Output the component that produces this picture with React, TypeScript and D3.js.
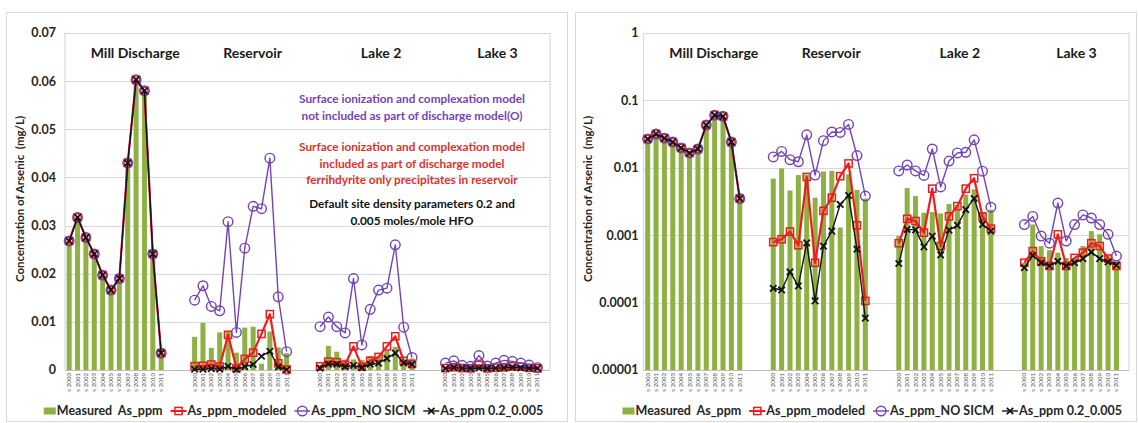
import React, { useEffect, useRef } from "react";
import * as d3 from "d3";

// ---- data -------------------------------------------------------------
const groupNames = ["Mill Discharge", "Reservoir", "Lake 2", "Lake 3"];
const yearLabels = [
  "s 2000", "s 2001", "s 2002", "s 2003", "s 2004", "s 2005",
  "s 2006", "s 2007", "s 2008", "s 2009", "s 2010", "s 2011",
];

// Mill Discharge: measured and all three model runs coincide
const millMeasured = [0.0268, 0.0317, 0.0275, 0.0241, 0.0197, 0.0166, 0.019, 0.043, 0.0603, 0.058, 0.0241, 0.0035];
const millModeled = [0.0268, 0.0317, 0.0275, 0.0241, 0.0197, 0.0166, 0.019, 0.043, 0.0603, 0.058, 0.0241, 0.0035];
const millNoSicm = [0.0268, 0.0317, 0.0275, 0.0241, 0.0197, 0.0166, 0.019, 0.043, 0.0603, 0.058, 0.0241, 0.0035];
const millDefault = [0.0268, 0.0317, 0.0275, 0.0241, 0.0197, 0.0166, 0.019, 0.043, 0.0603, 0.058, 0.0241, 0.0035];

const resMeasured = [0.0069, 0.0098, 0.0046, 0.0078, 0.0079, 0.0036, 0.0088, 0.009, 0.0013, 0.008, 0.0047, 0.0035];
const resModeled = [0.00079, 0.00087, 0.00113, 0.00071, 0.0073, 0.00039, 0.0023, 0.0036, 0.0075, 0.0116, 0.0014, 0.000106];
const resNoSicm = [0.0145, 0.0175, 0.0132, 0.0123, 0.0308, 0.0078, 0.0253, 0.034, 0.0335, 0.044, 0.0152, 0.0038];
const resDefault = [0.000163, 0.000154, 0.000285, 0.000177, 0.00077, 0.000106, 0.00069, 0.00115, 0.00286, 0.0039, 0.00062, 0.0000588];

const lake2Measured = [0.00098, 0.005, 0.0038, 0.00215, 0.0022, 0.0021, 0.0029, 0.0028, 0.004, 0.0048, 0.0022, 0.0024];
const lake2Modeled = [0.00076, 0.00175, 0.00162, 0.00109, 0.0049, 0.00069, 0.0019, 0.0027, 0.0049, 0.007, 0.0019, 0.00125];
const lake2NoSicm = [0.009, 0.011, 0.009, 0.0077, 0.019, 0.0052, 0.0126, 0.0166, 0.017, 0.026, 0.0089, 0.0026];
const lake2Default = [0.00038, 0.00122, 0.0012, 0.00067, 0.00097, 0.00051, 0.00119, 0.0014, 0.0024, 0.0035, 0.00145, 0.00115];

const lake3Measured = [0.00039, 0.00144, 0.00069, 0.0006, 0.00055, 0.00046, 0.00046, 0.00069, 0.00115, 0.00103, 0.0005, 0.0004];
const lake3Modeled = [0.00039, 0.00058, 0.00041, 0.00035, 0.00103, 0.00035, 0.00046, 0.00055, 0.00076, 0.00069, 0.00045, 0.00035];
const lake3NoSicm = [0.00144, 0.0019, 0.00097, 0.00076, 0.003, 0.00082, 0.00144, 0.002, 0.0018, 0.00144, 0.00103, 0.00049];
const lake3Default = [0.00033, 0.0005, 0.00039, 0.00035, 0.00041, 0.00035, 0.00039, 0.00045, 0.00056, 0.00045, 0.0004, 0.00036];

const measuredByGroup = [millMeasured, resMeasured, lake2Measured, lake3Measured];
const modeledByGroup = [millModeled, resModeled, lake2Modeled, lake3Modeled];
const noSicmByGroup = [millNoSicm, resNoSicm, lake2NoSicm, lake3NoSicm];
const defaultByGroup = [millDefault, resDefault, lake2Default, lake3Default];

const linearTicks = [0, 0.01, 0.02, 0.03, 0.04, 0.05, 0.06, 0.07];
const linearTickLabels = ["0", "0.01", "0.02", "0.03", "0.04", "0.05", "0.06", "0.07"];
const logTicks = [0.00001, 0.0001, 0.001, 0.01, 0.1, 1];
const logTickLabels = ["0.00001", "0.0001", "0.001", "0.01", "0.1", "1"];

const legendLabels = ["Measured  As_ppm", "As_ppm_modeled", "As_ppm_NO SICM", "As_ppm 0.2_0.005"];

const purpleNote = ["Surface ionization and complexation model", "not included as part of discharge model(O)"];
const redNote = [
  "Surface ionization and complexation model",
  "included as part of discharge model",
  "ferrihdyrite only precipitates in reservoir",
];
const blackNote = ["Default site density parameters 0.2 and", "0.005 moles/mole HFO"];

// ---- layout / style ---------------------------------------------------
const W = 1139;
const H = 423;
const PLOT_TOP = 33;
const PLOT_BOTTOM = 370;
const SLOTS_PER_GROUP = 15; // 12 years + 3 empty slots between groups
const SLOT_COUNT = 58;
const FONT = "Lato, 'Open Sans', sans-serif";
const GREEN = "#8DB143";
const RED = "#EE1C1C";
const PURPLE = "#7443B8";
const BLACK = "#141414";
const GRID = "#d9d9d9";
const TITLE_SHIFT = [20, 12, 15, 6];

type Panel = {
  frameX: number;
  frameW: number;
  plotLeft: number;
  plotRight: number;
  log: boolean;
  ticks: number[];
  tickLabels: string[];
  yTitleX: number;
  notes: boolean;
};

const panels: Panel[] = [
  { frameX: 6, frameW: 561, plotLeft: 65, plotRight: 550, log: false, ticks: linearTicks, tickLabels: linearTickLabels, yTitleX: 20, notes: true },
  { frameX: 575, frameW: 561, plotLeft: 643.5, plotRight: 1129, log: true, ticks: logTicks, tickLabels: logTickLabels, yTitleX: 588, notes: false },
];

function drawMarker(g: any, kind: string, x: number, y: number) {
  if (kind === "square") {
    g.append("rect").attr("x", x - 3.6).attr("y", y - 3.6).attr("width", 7.2).attr("height", 7.2)
      .attr("fill", "none").attr("stroke", RED).attr("stroke-width", 1.5);
  } else if (kind === "circle") {
    g.append("circle").attr("cx", x).attr("cy", y).attr("r", 4.8)
      .attr("fill", "none").attr("stroke", PURPLE).attr("stroke-width", 1.4);
  } else {
    const s = 3.2;
    g.append("path").attr("d", `M${x - s},${y - s}L${x + s},${y + s}M${x - s},${y + s}L${x + s},${y - s}`)
      .attr("stroke", BLACK).attr("stroke-width", 1.8).attr("fill", "none");
  }
}

function drawPanel(svg: any, p: Panel) {
  const root = svg.append("g");

  root.append("rect").attr("x", p.frameX + 0.5).attr("y", 12.5).attr("width", p.frameW).attr("height", 409)
    .attr("fill", "#fff").attr("stroke", GRID);

  const y: any = p.log
    ? d3.scaleLog().domain([0.00001, 1]).range([PLOT_BOTTOM, PLOT_TOP])
    : d3.scaleLinear().domain([0, 0.07]).range([PLOT_BOTTOM, PLOT_TOP]);
  const x = d3.scaleBand<number>().domain(d3.range(SLOT_COUNT)).range([p.plotLeft, p.plotRight])
    .paddingInner(0.4).paddingOuter(0.2);
  const step = x.step();
  const cx = (g: number, i: number) => p.plotLeft + step * (g * SLOTS_PER_GROUP + i + 0.5);

  // gridlines and plot border
  p.ticks.forEach((t, k) => {
    if (k === 0) return;
    root.append("line").attr("x1", p.plotLeft).attr("x2", p.plotRight)
      .attr("y1", Math.round(y(t)) + 0.5).attr("y2", Math.round(y(t)) + 0.5)
      .attr("stroke", GRID).attr("stroke-width", 1.2);
  });
  [p.plotLeft, p.plotRight].forEach((xx) =>
    root.append("line").attr("x1", xx).attr("x2", xx).attr("y1", PLOT_TOP).attr("y2", PLOT_BOTTOM)
      .attr("stroke", GRID).attr("stroke-width", 1.2)
  );
  root.append("line").attr("x1", p.plotLeft).attr("x2", p.plotRight)
    .attr("y1", PLOT_BOTTOM + 0.5).attr("y2", PLOT_BOTTOM + 0.5).attr("stroke", "#bdbdbd").attr("stroke-width", 1.2);

  // y tick labels
  p.ticks.forEach((t, k) => {
    root.append("text").attr("x", p.plotLeft - (p.log ? 5 : 9)).attr("y", y(t)).attr("dy", "0.35em")
      .attr("text-anchor", "end").attr("font-family", FONT).attr("font-weight", 700)
      .attr("font-size", 12.5).attr("fill", "#262626").text(p.tickLabels[k]);
  });

  // y axis title
  root.append("text").attr("transform", `translate(${p.yTitleX},199) rotate(-90)`)
    .attr("text-anchor", "middle").attr("dy", "0.35em").attr("font-family", FONT).attr("font-weight", 700)
    .attr("font-size", 11.5).attr("fill", "#262626").style("white-space", "pre")
    .text("Concentration of Arsenic  (mg/L)");

  // group titles
  groupNames.forEach((name, g) => {
    const mid = p.plotLeft + step * (g * SLOTS_PER_GROUP + 6);
    root.append("text").attr("x", mid + TITLE_SHIFT[g]).attr("y", 53).attr("dy", "0.35em")
      .attr("text-anchor", "middle").attr("font-family", FONT).attr("font-weight", 700)
      .attr("font-size", 14).attr("fill", "#1a1a1a").text(name);
  });

  // measured bars
  const base = y.range()[0];
  measuredByGroup.forEach((vals, g) => {
    vals.forEach((v, i) => {
      const xx = x(g * SLOTS_PER_GROUP + i) as number;
      root.append("rect").attr("x", xx).attr("width", x.bandwidth())
        .attr("y", y(v)).attr("height", base - y(v)).attr("fill", GREEN);
    });
  });

  // modelled series
  const series = [
    { data: modeledByGroup, color: RED, width: 2.2, marker: "square" },
    { data: noSicmByGroup, color: PURPLE, width: 1.4, marker: "circle" },
    { data: defaultByGroup, color: BLACK, width: 1.4, marker: "x" },
  ];
  series.forEach((s) => {
    const sg = root.append("g");
    s.data.forEach((vals, g) => {
      const line = d3.line<number>().x((_, i) => cx(g, i)).y((v) => y(v));
      sg.append("path").attr("d", line(vals)).attr("fill", "none").attr("stroke", s.color)
        .attr("stroke-width", s.width).attr("stroke-linejoin", "round");
      vals.forEach((v, i) => drawMarker(sg, s.marker, cx(g, i), y(v)));
    });
  });

  // x tick labels
  groupNames.forEach((_, g) => {
    yearLabels.forEach((lab, i) => {
      root.append("text").attr("transform", `translate(${cx(g, i) + 2},${PLOT_BOTTOM + 3}) rotate(-90)`)
        .attr("text-anchor", "end").attr("font-family", FONT).attr("font-size", 6.2)
        .attr("fill", "#555").text(lab);
    });
  });

  // legend
  const lg = root.append("g");
  let cursor = 0;
  const items: { kind: string; label: string }[] = [
    { kind: "bar", label: legendLabels[0] },
    { kind: "square", label: legendLabels[1] },
    { kind: "circle", label: legendLabels[2] },
    { kind: "x", label: legendLabels[3] },
  ];
  const LY = 411;
  items.forEach((it, k) => {
    const ig = lg.append("g");
    let symW: number;
    if (it.kind === "bar") {
      ig.append("rect").attr("x", cursor).attr("y", LY - 3.5).attr("width", 12).attr("height", 7).attr("fill", GREEN);
      symW = 12;
    } else {
      const color = it.kind === "square" ? RED : it.kind === "circle" ? PURPLE : BLACK;
      ig.append("line").attr("x1", cursor).attr("x2", cursor + 16).attr("y1", LY).attr("y2", LY)
        .attr("stroke", color).attr("stroke-width", it.kind === "square" ? 2 : 1.4);
      drawMarker(ig, it.kind, cursor + 8, LY);
      symW = 16;
    }
    const t = ig.append("text").attr("x", cursor + symW + 1).attr("y", LY).attr("dy", "0.35em")
      .attr("font-family", FONT).attr("font-weight", 700).attr("font-size", 12.5)
      .attr("fill", "#262626").style("white-space", "pre").text(it.label);
    const tw = (t.node() as SVGTextElement).getComputedTextLength();
    cursor += symW + 1 + tw + (k < items.length - 1 ? 8 : 0);
  });
  const legendCenter = (p.plotLeft + p.plotRight) / 2 - 14;
  lg.attr("transform", `translate(${legendCenter - cursor / 2},0)`);

  // annotations
  if (p.notes) {
    const notes = [
      { lines: purpleNote, color: PURPLE, ys: [99, 116] },
      { lines: redNote, color: "#E0302A", ys: [147, 163.5, 180] },
      { lines: blackNote, color: "#111", ys: [204, 221] },
    ];
    notes.forEach((n) =>
      n.lines.forEach((txt, k) =>
        root.append("text").attr("x", 412).attr("y", n.ys[k]).attr("dy", "0.35em")
          .attr("text-anchor", "middle").attr("font-family", FONT).attr("font-weight", 700)
          .attr("font-size", 11.8).attr("fill", n.color).text(txt)
      )
    );
  }
}

export default function App() {
  const ref = useRef<SVGSVGElement>(null);
  useEffect(() => {
    const svg = d3.select(ref.current);
    svg.selectAll("*").remove();
    panels.forEach((p) => drawPanel(svg, p));
  }, []);
  return (
    <svg
      ref={ref}
      width={W}
      height={H}
      style={{ position: "absolute", left: 0, top: 0, background: "#fff", display: "block" }}
    />
  );
}
